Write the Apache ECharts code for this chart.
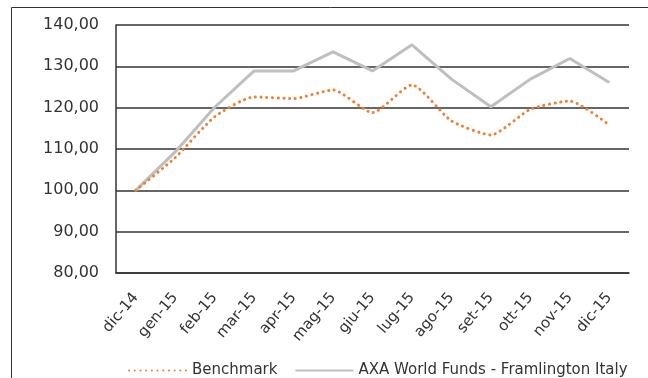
<!DOCTYPE html>
<html>
<head>
<meta charset="UTF-8">
<title></title>
<style>
  *{margin:0;padding:0;}
  #main{width:648px;height:378px;background:#fff;}
</style>
</head>
<body>
<div id="main"></div>
<script src="https://cdn.jsdelivr.net/npm/echarts@6/dist/echarts.min.js"></script>
<script>
var categories = ["dic-14","gen-15","feb-15","mar-15","apr-15","mag-15","giu-15","lug-15","ago-15","set-15","ott-15","nov-15","dic-15"];
var benchmark = [100, 107.9, 117.8, 122.6, 122.2, 124.3, 118.8, 125.5, 116.8, 113.4, 119.6, 121.6, 115.8];
var fund = [100, 109.3, 120.1, 128.9, 128.9, 133.5, 128.9, 135.2, 126.9, 120.2, 126.9, 131.9, 126.1];
var yMin = 80, yMax = 140, yStep = 10;

var font = "DejaVu Sans";
var chart = echarts.init(document.getElementById("main"));
var option = {
  animation:false,
  textStyle:{fontFamily:font},
  graphic:[
    {
      type:"rect",
      shape:{x:11.5, y:7.5, width:660, height:400},
      style:{fill:"none", stroke:"#333", lineWidth:1}
    }
  ],
  grid:{left:116, right:19, top:25, bottom:105},
  legend:{
    left:123,
    top:358,
    itemWidth:58,
    itemHeight:14,
    itemGap:17,
    textStyle:{color:"#333", fontSize:15, fontFamily:font},
    itemStyle:{opacity:0},
    data:["Benchmark","AXA World Funds - Framlington Italy"]
  },
  xAxis:{
    type:"category",
    data:categories,
    boundaryGap:true,
    axisTick:{show:false},
    axisLine:{show:true, lineStyle:{color:"#333", width:1.5}},
    axisLabel:{rotate:50, color:"#333", fontSize:15, margin:22, fontFamily:font}
  },
  yAxis:{
    type:"value",
    min:yMin,
    max:yMax,
    interval:yStep,
    axisTick:{show:false},
    axisLine:{show:true, lineStyle:{color:"#333", width:1.5}},
    splitLine:{show:true, lineStyle:{color:"#333", width:1.5}},
    axisLabel:{
      color:"#333",
      fontSize:16,
      margin:17,
      fontFamily:font,
      formatter:function(v){return v.toFixed(2).replace(".", ",");}
    }
  },
  series:[
    {
      name:"Benchmark",
      type:"line",
      data:benchmark,
      smooth:0.2,
      symbol:"none",
      z:3,
      lineStyle:{color:"#F07F30", width:3, type:[0.1,5.6], cap:"round"},
      itemStyle:{color:"#F07F30"}
    },
    {
      name:"AXA World Funds - Framlington Italy",
      type:"line",
      data:fund,
      symbol:"none",
      z:2,
      lineStyle:{color:"#BFBFBF", width:3},
      itemStyle:{color:"#BFBFBF"}
    }
  ]
};
chart.setOption(option);
</script>
</body>
</html>
